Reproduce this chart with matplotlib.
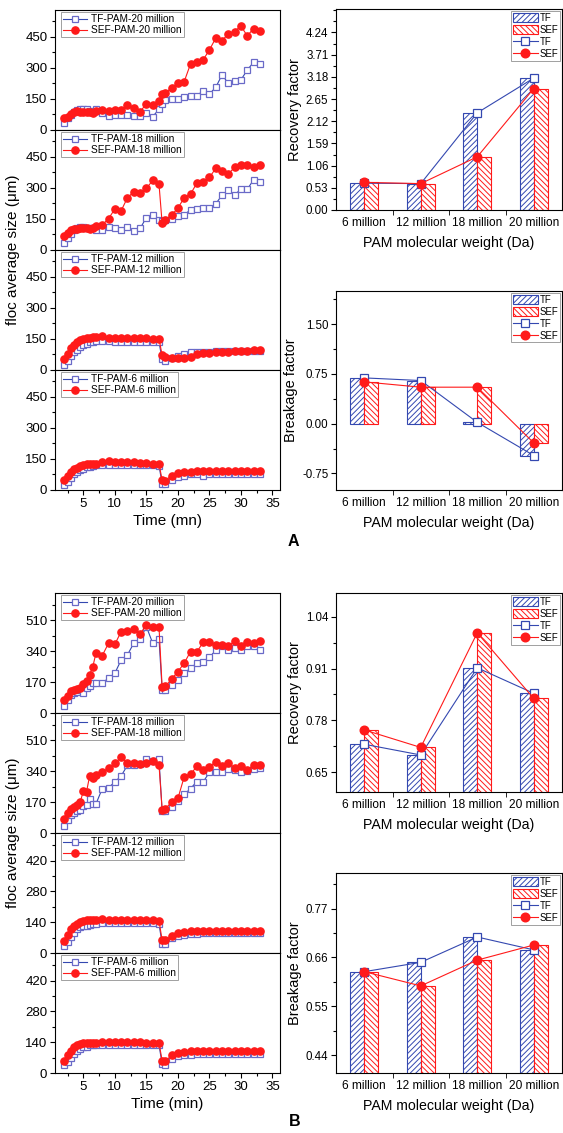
import numpy as np
import matplotlib.pyplot as plt
from matplotlib.ticker import MultipleLocator, FixedLocator

plt.rcParams['font.family'] = ['Liberation Sans', 'DejaVu Sans']
plt.rcParams['hatch.linewidth'] = 0.7

# time points (min)
t = [2, 2.5, 3, 3.5, 4, 4.5, 5, 5.5, 6, 6.5, 7, 8, 9, 10, 11, 12, 13, 14, 15, 16,
     17, 17.5, 18, 19, 20, 21, 22, 23, 24, 25, 26, 27, 28, 29, 30, 31, 32, 33]

# panel A floc sizes (um)
a20_tf = [32, 56, 73, 89, 97, 100, 102, 100, 92, 89, 100, 81, 68, 73, 73, 73, 68, 68, 81, 65,
          100, 128, 145, 148, 148, 158, 165, 165, 190, 174, 206, 266, 226, 239, 242, 290, 327, 319]
a20_sef = [56, 65, 77, 89, 90, 88, 87, 86, 85, 80, 90, 97, 92, 97, 97, 123, 105, 89, 126, 123,
           140, 174, 177, 205, 226, 234, 319, 327, 339, 387, 444, 432, 465, 476, 503, 455, 490, 477]
a18_tf = [33, 58, 79, 99, 107, 111, 111, 107, 107, 107, 99, 99, 111, 104, 99, 112, 91, 104, 157, 170,
          146, 141, 146, 152, 162, 169, 195, 200, 203, 203, 223, 265, 289, 268, 293, 293, 339, 331]
a18_sef = [66, 80, 95, 103, 103, 104, 106, 104, 103, 108, 118, 121, 152, 198, 190, 253, 281, 276, 298, 336,
           319, 129, 146, 169, 202, 253, 270, 323, 327, 351, 394, 384, 367, 400, 409, 409, 400, 413]
a12_tf = [26, 43, 68, 85, 99, 111, 119, 124, 133, 136, 140, 138, 138, 137, 137, 136, 136, 136, 136, 136,
          135, 51, 43, 60, 68, 77, 85, 89, 89, 89, 90, 90, 90, 91, 91, 92, 92, 92]
a12_sef = [51, 77, 106, 119, 133, 143, 148, 153, 153, 160, 158, 162, 157, 155, 155, 153, 153, 153, 153, 152,
           150, 72, 65, 60, 60, 60, 63, 77, 80, 82, 85, 89, 89, 94, 94, 94, 97, 97]
a6_tf = [25, 37, 58, 75, 87, 97, 103, 110, 113, 117, 120, 122, 121, 121, 120, 120, 120, 120, 120, 120,
         118, 30, 30, 50, 63, 70, 75, 75, 70, 75, 75, 76, 76, 76, 76, 77, 77, 77]
a6_sef = [47, 67, 87, 100, 108, 117, 120, 127, 127, 127, 127, 137, 140, 135, 133, 133, 133, 132, 130, 128,
          128, 47, 45, 70, 83, 87, 88, 90, 90, 90, 90, 90, 90, 90, 90, 90, 90, 90]

# panel B floc sizes (um)
b20_tf = [40, 69, 100, 110, 113, 128, 110, 137, 146, 165, 165, 165, 192, 219, 292, 320, 384, 406, 475, 384,
          408, 128, 128, 155, 183, 219, 247, 274, 283, 307, 344, 366, 344, 356, 347, 369, 369, 344]
b20_sef = [69, 91, 119, 124, 132, 137, 160, 175, 210, 255, 329, 316, 384, 378, 448, 452, 461, 435, 484, 475,
           475, 141, 146, 186, 228, 274, 338, 335, 389, 389, 375, 375, 366, 397, 366, 389, 384, 397]
b18_tf = [41, 70, 100, 112, 122, 128, 150, 155, 185, 157, 160, 244, 249, 281, 314, 373, 373, 379, 407, 397,
          407, 120, 120, 142, 176, 212, 244, 283, 281, 333, 333, 333, 350, 345, 338, 342, 350, 355]
b18_sef = [78, 111, 133, 142, 152, 170, 231, 227, 314, 301, 318, 336, 355, 384, 416, 384, 384, 379, 384, 397,
           375, 129, 133, 170, 190, 309, 323, 366, 347, 364, 392, 366, 384, 360, 370, 346, 375, 375]
b12_tf = [30, 50, 74, 93, 108, 118, 121, 124, 129, 130, 132, 134, 134, 134, 134, 134, 135, 134, 134, 134,
          132, 42, 39, 66, 77, 82, 86, 86, 90, 90, 90, 90, 90, 90, 90, 90, 90, 90]
b12_sef = [53, 82, 108, 121, 132, 142, 145, 148, 149, 149, 149, 153, 151, 151, 151, 150, 150, 149, 148, 148,
           147, 58, 57, 79, 90, 94, 99, 102, 102, 102, 102, 102, 102, 102, 102, 102, 102, 102]
b6_tf = [35, 48, 68, 86, 101, 111, 117, 120, 125, 126, 128, 129, 129, 128, 128, 128, 128, 127, 127, 127,
         127, 41, 38, 63, 75, 80, 83, 86, 86, 86, 86, 86, 86, 86, 86, 86, 86, 86]
b6_sef = [56, 80, 102, 117, 126, 132, 134, 137, 138, 138, 138, 141, 140, 139, 139, 139, 139, 139, 138, 138,
          137, 56, 53, 80, 90, 95, 98, 101, 101, 101, 101, 101, 101, 101, 101, 101, 101, 101]

# recovery / breakage factors
pam = ['6 million', '12 million', '18 million', '20 million']
recA_tf = [0.64, 0.63, 2.32, 3.15]
recA_sef = [0.66, 0.63, 1.27, 2.90]
brkA_tf = [0.69, 0.65, 0.02, -0.48]
brkA_sef = [0.63, 0.55, 0.55, -0.29]
recB_tf = [0.720, 0.693, 0.912, 0.848]
recB_sef = [0.756, 0.712, 1.000, 0.835]
brkB_tf = [0.628, 0.649, 0.706, 0.677]
brkB_sef = [0.628, 0.596, 0.654, 0.688]

blue = '#3448b0'
sqc = '#6a6ac8'
red = '#ff1a1a'

W, H = 563, 1133
fig = plt.figure(figsize=(W / 100, H / 100), dpi=100)


def box(x0, y0, x1, y1):
    # pixel box (top-left origin) -> axes
    return fig.add_axes([x0 / W, 1 - y1 / H, (x1 - x0) / W, (y1 - y0) / H])


def floc_panel(ax, tf, sef, tag, ytop, ystep, last):
    ax.plot(t, tf, color=blue, lw=0.8, marker='s', ms=4.8, mfc='white', mec=sqc, mew=0.9,
            label='TF-PAM-%s million' % tag)
    ax.plot(t, sef, color=red, lw=0.8, marker='o', ms=5.2, mfc=red, mec=red,
            label='SEF-PAM-%s million' % tag)
    ax.set_xlim(0.5, 36.2)
    ax.set_ylim(0, ytop)
    ax.yaxis.set_major_locator(FixedLocator([ystep * i for i in range(4)]))
    ax.yaxis.set_minor_locator(MultipleLocator(ystep / 2))
    ax.xaxis.set_major_locator(MultipleLocator(5))
    ax.xaxis.set_minor_locator(MultipleLocator(2.5))
    ax.tick_params(which='both', direction='out', labelsize=9.5, width=0.8, pad=2)
    ax.tick_params(which='major', length=3.5)
    ax.tick_params(which='minor', length=2)
    ax.tick_params(axis='x', labelbottom=last)
    leg = ax.legend(loc='upper left', fontsize=7.3, handlelength=2.4, borderpad=0.2,
                    labelspacing=0.1, handletextpad=0.4, fancybox=False,
                    bbox_to_anchor=(0.02, 0.99), borderaxespad=0.1)
    leg.get_frame().set_edgecolor('#888888')
    leg.get_frame().set_linewidth(0.7)
    for s in ax.spines.values():
        s.set_linewidth(0.8)


def factor_panel(ax, tf, sef, ylim, yticks, ylabel):
    x = np.arange(1, 5)
    w = 0.25
    b1 = ax.bar(x - w / 2, tf, w, facecolor='white', edgecolor=blue, hatch='//////', lw=0.8)
    b2 = ax.bar(x + w / 2, sef, w, facecolor='white', edgecolor=red, hatch='\\\\\\\\\\\\', lw=0.8)
    l1, = ax.plot(x, tf, color=blue, lw=0.8, marker='s', ms=5.2, mfc='white', mec=blue, mew=0.9)
    l2, = ax.plot(x, sef, color=red, lw=0.8, marker='o', ms=6.2, mfc=red, mec=red)
    ax.set_xlim(0.5, 4.5)
    ax.set_ylim(*ylim)
    ax.set_xticks(x)
    ax.set_xticklabels(pam)
    ax.xaxis.set_minor_locator(FixedLocator([1.5, 2.5, 3.5]))
    ax.set_yticks(yticks)
    ax.yaxis.set_major_formatter(plt.FormatStrFormatter('%.2f'))
    ax.yaxis.set_minor_locator(MultipleLocator((yticks[1] - yticks[0]) / 2))
    ax.tick_params(axis='x', which='major', length=0, labelsize=8.6, pad=5)
    ax.tick_params(axis='x', which='minor', length=3.5, direction='out')
    ax.tick_params(axis='y', which='both', direction='out', labelsize=8.3, width=0.8, pad=2)
    ax.tick_params(axis='y', which='major', length=3.5)
    ax.tick_params(axis='y', which='minor', length=2)
    ax.set_ylabel(ylabel, fontsize=10.5, labelpad=3)
    ax.set_xlabel('PAM molecular weight (Da)', fontsize=10.2, labelpad=5)
    leg = ax.legend([b1, b2, l1, l2], ['TF', 'SEF', 'TF', 'SEF'], loc='upper right',
                    fontsize=6.9, handlelength=2.6, handleheight=1.05, borderpad=0.2,
                    labelspacing=0.2, handletextpad=0.2, fancybox=False,
                    borderaxespad=0.2)
    leg.get_frame().set_edgecolor('#888888')
    leg.get_frame().set_linewidth(0.7)
    for s in ax.spines.values():
        s.set_linewidth(0.8)


# ---- A ----
A_left = [(a20_tf, a20_sef, '20'), (a18_tf, a18_sef, '18'), (a12_tf, a12_sef, '12'), (a6_tf, a6_sef, '6')]
for i, (tf, sef, tag) in enumerate(A_left):
    ax = box(55, 10 + 120 * i, 280, 130 + 120 * i)
    floc_panel(ax, tf, sef, tag, 580, 150, i == 3)
    if i == 3:
        ax.set_xlabel('Time (mn)', fontsize=11, labelpad=3)
fig.text(13 / W, 1 - 250 / H, 'floc average size (\u03bcm)', rotation=90, fontsize=11,
         ha='center', va='center')

ax = box(336, 9, 562, 210)
factor_panel(ax, recA_tf, recA_sef, (0, 4.8), [0.00, 0.53, 1.06, 1.59, 2.12, 2.65, 3.18, 3.71, 4.24],
             'Recovery factor')

ax = box(336, 291, 562, 490)
factor_panel(ax, brkA_tf, brkA_sef, (-1.0, 2.0), [-0.75, 0.00, 0.75, 1.50], 'Breakage factor')

fig.text(293 / W, 1 - 541 / H, 'A', fontsize=11.5, fontweight='bold', ha='center', va='center')

# ---- B ----
B_left = [(b20_tf, b20_sef, '20', 660, 170), (b18_tf, b18_sef, '18', 660, 170),
          (b12_tf, b12_sef, '12', 545, 140), (b6_tf, b6_sef, '6', 545, 140)]
for i, (tf, sef, tag, ytop, step) in enumerate(B_left):
    ax = box(55, 593 + 120 * i, 280, 713 + 120 * i)
    floc_panel(ax, tf, sef, tag, ytop, step, i == 3)
    if i == 3:
        ax.set_xlabel('Time (min)', fontsize=11, labelpad=3)
fig.text(13 / W, 1 - 833 / H, 'floc average size (\u03bcm)', rotation=90, fontsize=11,
         ha='center', va='center')

ax = box(336, 593, 562, 792)
factor_panel(ax, recB_tf, recB_sef, (0.60, 1.10), [0.65, 0.78, 0.91, 1.04], 'Recovery factor')

ax = box(336, 873, 562, 1073)
factor_panel(ax, brkB_tf, brkB_sef, (0.40, 0.85), [0.44, 0.55, 0.66, 0.77], 'Breakage factor')

fig.text(295 / W, 1 - 1122 / H, 'B', fontsize=11.5, fontweight='bold', ha='center', va='center')

fig.savefig('out.png', dpi=100)
